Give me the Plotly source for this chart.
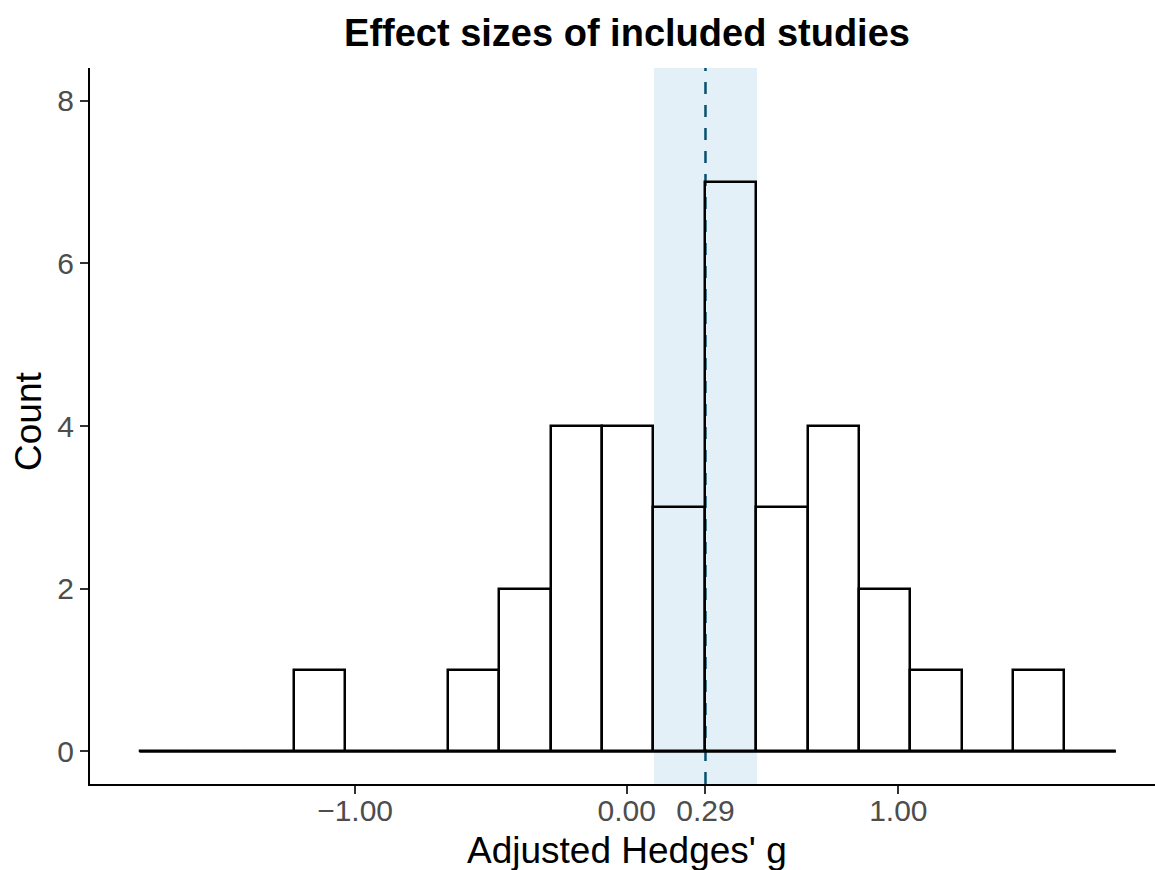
import numpy as np
import plotly.graph_objects as go

# ---- data ----
bin_start = -1.794          # left edge of first bin
bin_width = 0.1892          # histogram bin width
counts = [0, 0, 0, 1, 0, 0, 1, 2, 4, 4, 3, 7, 3, 4, 2, 1, 0, 1, 0]
pooled_g = 0.29             # pooled effect (dashed line)
ci_low, ci_high = 0.10, 0.48  # confidence band
x_tickvals = [-1.0, 0.0, 0.29, 1.0]
x_ticktext = ["\u22121.00", "0.00", "0.29", "1.00"]
y_tickvals = [0, 2, 4, 6, 8]

edges = bin_start + bin_width * np.arange(len(counts) + 1)
centers = (edges[:-1] + edges[1:]) / 2

FONT = "Liberation Sans, Arial, Helvetica, sans-serif"
W, H = 1155, 870
L, R, T, B = 90, 0, 68, 86
PW, PH = W - L - R, H - T - B

fig = go.Figure()

# baseline under all bins (ggplot draws zero-count bins as flat outline)
fig.add_trace(go.Scatter(
    x=[edges[0], edges[-1]], y=[0, 0], mode="lines",
    line=dict(color="black", width=2.5), hoverinfo="skip", showlegend=False))

fig.add_trace(go.Bar(
    x=centers, y=counts, width=bin_width,
    marker=dict(color="rgba(0,0,0,0)", line=dict(color="black", width=2.5)),
    showlegend=False))

# CI band and pooled estimate
fig.add_shape(type="rect", xref="x", yref="paper", x0=ci_low, x1=ci_high,
              y0=0, y1=1, fillcolor="#e4f0f8", line=dict(width=0), layer="below")
fig.add_shape(type="line", xref="x", yref="paper", x0=pooled_g, x1=pooled_g,
              y0=0, y1=1, line=dict(color="#07506e", width=2.5, dash="12px,11px"),
              layer="below")

fig.update_layout(
    width=W, height=H,
    margin=dict(l=L, r=R, t=T, b=B, pad=0, autoexpand=False),
    plot_bgcolor="white", paper_bgcolor="white",
    bargap=0,
    font=dict(family=FONT, color="black"),
    title=dict(text="<b>Effect sizes of included studies</b>",
               font=dict(family=FONT, size=38, color="black"),
               xref="container", x=627 / W, xanchor="center",
               yref="container", y=1 - 33 / H, yanchor="middle"),
    xaxis=dict(range=[-1.976, 1.945], showgrid=False, zeroline=False,
               showline=True, linecolor="black", linewidth=2,
               tickmode="array", tickvals=x_tickvals, ticktext=x_ticktext,
               ticks="outside", ticklen=8, tickwidth=2, tickcolor="#333333",
               tickfont=dict(family=FONT, size=30, color="#4d4d4d"),
               ticklabelstandoff=-9,
               automargin=False),
    yaxis=dict(range=[-0.4, 8.4], showgrid=False, zeroline=False,
               showline=True, linecolor="black", linewidth=2,
               tickmode="array", tickvals=y_tickvals,
               ticks="outside", ticklen=8, tickwidth=2, tickcolor="#333333",
               tickfont=dict(family=FONT, size=30, color="#4d4d4d"),
               automargin=False),
)

fig.add_annotation(text="Adjusted Hedges' g", xref="paper", yref="paper",
                   x=(627 - L) / PW, y=-(850 - (H - B)) / PH,
                   xanchor="center", yanchor="middle", showarrow=False,
                   font=dict(family=FONT, size=37, color="black"))
fig.add_annotation(text="Count", xref="paper", yref="paper",
                   x=(29 - L) / PW, y=1 - (422 - T) / PH, textangle=-90,
                   xanchor="center", yanchor="middle", showarrow=False,
                   font=dict(family=FONT, size=37, color="black"))

fig.write_html("out.html",
               config={"displayModeBar": False},
               post_script="document.body.style.margin='0';"
                           "document.body.style.padding='0';")
